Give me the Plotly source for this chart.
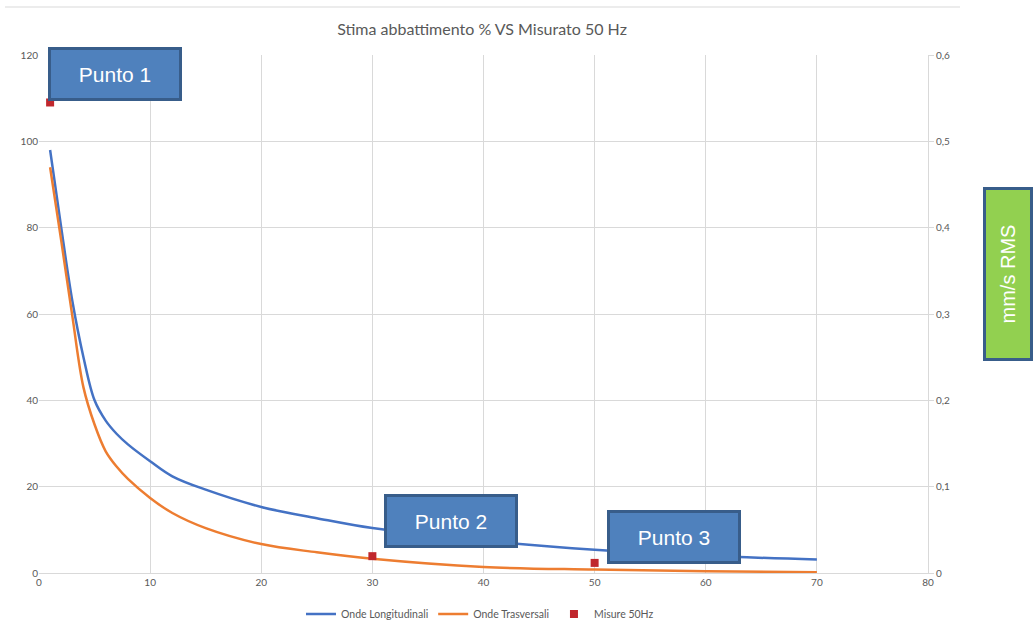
import plotly.graph_objects as go

# ---- data ----
distance = [1, 2, 3, 4, 5, 6, 7, 8, 10, 12, 15, 20, 25, 30, 40, 50, 60, 70]
onde_longitudinali = [98, 80, 63, 50, 40, 35.3, 32.2, 29.8, 25.9, 22.4, 19.3, 15.3, 12.7, 10.4, 7.5, 5.4, 4.0, 3.1]
onde_trasversali = [94, 77, 59.5, 43, 34.4, 28.2, 24.6, 21.8, 17.4, 13.9, 10.4, 6.7, 4.8, 3.3, 1.4, 0.8, 0.4, 0.2]

misure_x = [1, 30, 50]
misure_50hz = [0.545, 0.0195, 0.0117]

right_tickvals = [0, 0.1, 0.2, 0.3, 0.4, 0.5, 0.6]
right_ticktext = ["0", "0,1", "0,2", "0,3", "0,4", "0,5", "0,6"]

title_text = "Stima abbattimento % VS Misurato 50 Hz"
punti = ["Punto 1", "Punto 2", "Punto 3"]

BLUE = "#4472C4"
ORANGE = "#ED7D31"
RED = "#C0272D"
GRID = "#D9D9D9"
TXT = "#595959"

fig = go.Figure()
fig.add_trace(go.Scatter(x=distance, y=onde_longitudinali, name="Onde Longitudinali",
                         mode="lines", line=dict(color=BLUE, width=2.5, shape="spline", smoothing=1.0)))
fig.add_trace(go.Scatter(x=distance, y=onde_trasversali, name="Onde Trasversali",
                         mode="lines", line=dict(color=ORANGE, width=2.5, shape="spline", smoothing=1.0)))
fig.add_trace(go.Scatter(x=misure_x, y=misure_50hz, name="Misure 50Hz", yaxis="y2",
                         mode="markers", marker=dict(color=RED, size=8, symbol="square")))

W, H = 1034, 624
L, R, T, B = 39, 106, 55, 51
pw, ph = W - L - R, H - T - B


def px(x):
    return (x - L) / pw


def py(y):
    return (H - B - y) / ph


fig.update_layout(
    width=W, height=H,
    margin=dict(l=L, r=R, t=T, b=B, autoexpand=False),
    paper_bgcolor="white", plot_bgcolor="white",
    font=dict(family="Lato, Open Sans, sans-serif", color=TXT, size=10),
    title=dict(text=title_text, x=482 / W, xanchor="center", y=1 - 29 / H, yanchor="middle",
               font=dict(size=16, color=TXT, family="Lato, Open Sans, sans-serif")),
    xaxis=dict(range=[0, 80], dtick=10, showgrid=True, gridcolor=GRID, gridwidth=1,
               showline=True, linecolor=GRID, zeroline=False, ticks="",
               tickfont=dict(size=10, color=TXT)),
    yaxis=dict(range=[0, 120], dtick=20, showgrid=True, gridcolor=GRID, gridwidth=1,
               showline=False, zeroline=False, ticks="", tickfont=dict(size=10, color=TXT)),
    yaxis2=dict(range=[0, 0.6], overlaying="y", side="right", showgrid=False,
                tickvals=right_tickvals, ticktext=right_ticktext,
                showline=True, linecolor=GRID, ticks="outside", tickcolor=GRID, ticklen=5,
                zeroline=False, tickfont=dict(size=10, color=TXT)),
    legend=dict(orientation="h", x=px(480), xanchor="center", y=py(614), yanchor="middle",
                font=dict(size=10.5, color=TXT), bgcolor="rgba(0,0,0,0)"),
    showlegend=True,
)

# thin gray frame line at top
fig.add_shape(type="line", xref="paper", yref="paper", x0=px(5), x1=px(960), y0=py(7), y1=py(7),
              line=dict(color="#D9D9D9", width=1))

box_style = dict(xref="paper", yref="paper", showarrow=False, bgcolor="#4F81BD",
                 bordercolor="#385D8A", borderwidth=3, borderpad=0,
                 font=dict(family="Arial, Liberation Sans, sans-serif", size=21, color="white"),
                 width=128, height=48, xanchor="center", yanchor="middle")
centers = [(115, 74), (451, 520.5), (673.5, 537)]
for label, (cx, cy) in zip(punti, centers):
    fig.add_annotation(text=label, x=px(cx), y=py(cy), **box_style)

fig.add_annotation(text="mm/s RMS", xref="paper", yref="paper", x=px(1008), y=py(274),
                   xanchor="center", yanchor="middle", showarrow=False, textangle=-90,
                   bgcolor="#92D050", bordercolor="#385D8A", borderwidth=3, borderpad=0,
                   width=168, height=44,
                   font=dict(family="Arial, Liberation Sans, sans-serif", size=20, color="white"))

fig.write_html("out.html", config={"displayModeBar": False},
               post_script="document.body.style.margin='0';document.body.style.overflow='hidden';")
